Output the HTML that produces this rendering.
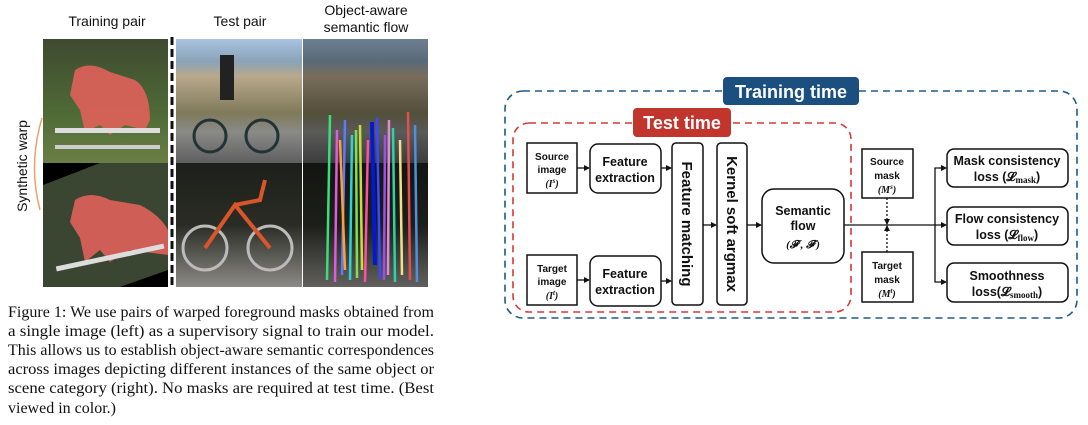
<!DOCTYPE html>
<html><head><meta charset="utf-8"><style>
html,body{margin:0;padding:0;background:#fff;width:1088px;height:425px;overflow:hidden}
svg{display:block}
.b{font-family:"Liberation Sans",sans-serif;font-weight:bold;fill:#111}
.cap{font-family:"Liberation Serif",serif;font-size:16px;fill:#111}
.hd{font-family:"Liberation Sans",sans-serif;font-size:14px;fill:#111}
</style></head><body>
<svg width="1088" height="425" viewBox="0 0 1088 425" xmlns="http://www.w3.org/2000/svg">
<defs>
<marker id="ar" markerWidth="6" markerHeight="6" refX="5" refY="3" orient="auto" markerUnits="userSpaceOnUse"><path d="M0,0 L6,3 L0,6 z" fill="#111"/></marker>
<linearGradient id="g1" x1="0" y1="0" x2="0" y2="1"><stop offset="0" stop-color="#3e4a30"/><stop offset="0.6" stop-color="#4f6a36"/><stop offset="1" stop-color="#6a7f45"/></linearGradient>
<linearGradient id="g2" x1="0" y1="0" x2="0" y2="1"><stop offset="0" stop-color="#a9c3e0"/><stop offset="0.18" stop-color="#8aa3b8"/><stop offset="0.3" stop-color="#b9a88c"/><stop offset="0.6" stop-color="#7f7a5a"/><stop offset="0.75" stop-color="#8a8a88"/><stop offset="1" stop-color="#5f5f60"/></linearGradient>
<linearGradient id="g3" x1="0" y1="0" x2="0" y2="1"><stop offset="0" stop-color="#1d1f1a"/><stop offset="0.5" stop-color="#2a2c25"/><stop offset="1" stop-color="#8c8a86"/></linearGradient>
</defs>

<text class="hd" x="107" y="26" text-anchor="middle">Training pair</text>
<text class="hd" x="240" y="26" text-anchor="middle">Test pair</text>
<text class="hd" x="366" y="15" text-anchor="middle">Object-aware</text>
<text class="hd" x="366" y="32" text-anchor="middle">semantic flow</text>
<text class="hd" transform="translate(27,166) rotate(-90)" text-anchor="middle">Synthetic warp</text>
<path d="M42,118 Q28,165 40,210" stroke="#f0a070" stroke-width="1.5" fill="none"/>

<rect x="43" y="39" width="125" height="124" fill="url(#g1)"/>
<path d="M75,70 Q90,60 110,72 L135,80 Q150,90 150,120 L145,130 L125,125 L110,135 L100,125 L85,132 L80,110 L70,95 Z" fill="#e0605a" opacity="0.9"/>
<rect x="55" y="128" width="105" height="5" fill="#ddd"/><rect x="55" y="145" width="105" height="4" fill="#ccc"/>
<rect x="43" y="163" width="125" height="124" fill="#3a4532"/>
<polygon points="43,163 100,163 43,185" fill="#000"/><polygon points="168,270 168,287 120,287" fill="#000"/>
<path d="M75,200 Q90,190 110,200 L140,205 Q160,215 168,230 L168,255 L130,250 L110,262 L100,250 L85,262 L80,238 L70,222 Z" fill="#e0605a" opacity="0.9"/>
<rect x="55" y="255" width="110" height="5" fill="#ddd" transform="rotate(-12 110 257)"/>

<line x1="172" y1="37" x2="172" y2="288" stroke="#111" stroke-width="3" stroke-dasharray="8,4"/>

<rect x="176" y="39" width="126" height="124" fill="url(#g2)"/>
<circle cx="210" cy="136" r="16" fill="none" stroke="#233" stroke-width="3"/><circle cx="262" cy="136" r="16" fill="none" stroke="#233" stroke-width="3"/>
<rect x="220" y="55" width="14" height="45" fill="#222"/>
<rect x="176" y="163" width="126" height="124" fill="url(#g3)"/>
<circle cx="205" cy="248" r="22" fill="none" stroke="#bbb" stroke-width="3"/><circle cx="270" cy="248" r="22" fill="none" stroke="#bbb" stroke-width="3"/>
<path d="M205,248 L235,205 L270,248 M235,205 L260,200 L265,180" stroke="#d9562a" stroke-width="4" fill="none"/>

<rect x="303" y="39" width="125" height="124" fill="url(#g2)"/>
<rect x="303" y="39" width="125" height="124" fill="#000" opacity="0.35"/>
<rect x="303" y="163" width="125" height="124" fill="url(#g3)"/>
<rect x="303" y="163" width="125" height="124" fill="#000" opacity="0.3"/>
<g stroke-width="2.5">
<line x1="330" y1="115" x2="327" y2="280" stroke="#39e07a"/><line x1="337" y1="130" x2="335" y2="282" stroke="#e05adf"/>
<line x1="345" y1="120" x2="342" y2="275" stroke="#5a7bff"/><line x1="352" y1="135" x2="350" y2="280" stroke="#2bd4d4"/>
<line x1="360" y1="125" x2="362" y2="270" stroke="#c6e03a"/><line x1="368" y1="140" x2="365" y2="282" stroke="#ff4fa3"/>
<line x1="377" y1="118" x2="380" y2="278" stroke="#3b4aff"/><line x1="385" y1="135" x2="384" y2="280" stroke="#9b52e0"/>
<line x1="393" y1="128" x2="395" y2="282" stroke="#2bd4a0"/><line x1="400" y1="140" x2="402" y2="275" stroke="#f5e08a"/>
<line x1="408" y1="112" x2="410" y2="280" stroke="#e0504f"/><line x1="415" y1="125" x2="417" y2="282" stroke="#4f8fe0"/>
<line x1="340" y1="140" x2="345" y2="270" stroke="#ffa030"/><line x1="372" y1="122" x2="375" y2="265" stroke="#0019d4" stroke-width="4"/>
<line x1="356" y1="130" x2="357" y2="278" stroke="#7fe04f"/><line x1="389" y1="120" x2="388" y2="275" stroke="#e08ad4"/>
</g>

<text class="cap" x="8" y="317" textLength="426" lengthAdjust="spacingAndGlyphs">Figure 1: We use pairs of warped foreground masks obtained from</text>
<text class="cap" x="8" y="336" textLength="426" lengthAdjust="spacingAndGlyphs">a single image (left) as a supervisory signal to train our model.</text>
<text class="cap" x="8" y="355" textLength="426" lengthAdjust="spacingAndGlyphs">This allows us to establish object-aware semantic correspondences</text>
<text class="cap" x="8" y="374" textLength="426" lengthAdjust="spacingAndGlyphs">across images depicting different instances of the same object or</text>
<text class="cap" x="8" y="393" textLength="426" lengthAdjust="spacingAndGlyphs">scene category (right). No masks are required at test time. (Best</text>
<text class="cap" x="8" y="413">viewed in color.)</text>

<rect x="505" y="91" width="572" height="227" rx="18" fill="none" stroke="#1f5a8a" stroke-width="1.6" stroke-dasharray="7,5"/>
<rect x="723" y="77" width="136" height="28" rx="4" fill="#1b4f80"/>
<text class="b" x="791" y="98" text-anchor="middle" font-size="18" style="fill:#fff">Training time</text>
<rect x="513" y="123" width="338" height="189" rx="16" fill="none" stroke="#d23a36" stroke-width="1.6" stroke-dasharray="7,5"/>
<rect x="633" y="108" width="98" height="29" rx="4" fill="#c2352d"/>
<text class="b" x="682" y="129" text-anchor="middle" font-size="18" style="fill:#fff">Test time</text>

<g fill="#fff" stroke="#111" stroke-width="1.5">
<rect x="527" y="143" width="50" height="50"/>
<rect x="527" y="255" width="50" height="50"/>
<rect x="590" y="144" width="71" height="49" rx="8"/>
<rect x="590" y="256" width="71" height="50" rx="8"/>
<rect x="672" y="143" width="31" height="162" rx="4"/>
<rect x="717" y="143" width="30" height="162" rx="4"/>
<rect x="762" y="189" width="82" height="74" rx="12"/>
<rect x="862" y="149" width="51" height="49"/>
<rect x="862" y="252" width="51" height="50"/>
<rect x="947" y="149" width="121" height="38" rx="7"/>
<rect x="947" y="207" width="121" height="38" rx="7"/>
<rect x="947" y="263" width="121" height="39" rx="7"/>
</g>

<g class="b" font-size="10" text-anchor="middle">
<text x="552" y="160">Source</text><text x="552" y="173">image</text>
<text x="552" y="187" font-family="Liberation Serif" font-style="italic">(I<tspan font-size="7" dy="-4">s</tspan><tspan dy="4">)</tspan></text>
<text x="552" y="272">Target</text><text x="552" y="285">image</text>
<text x="552" y="299" font-family="Liberation Serif" font-style="italic">(I<tspan font-size="7" dy="-4">t</tspan><tspan dy="4">)</tspan></text>
<text x="887" y="165">Source</text><text x="887" y="179">mask</text>
<text x="887" y="193" font-family="Liberation Serif" font-style="italic">(M<tspan font-size="7" dy="-4">s</tspan><tspan dy="4">)</tspan></text>
<text x="887" y="269">Target</text><text x="887" y="283">mask</text>
<text x="887" y="297" font-family="Liberation Serif" font-style="italic">(M<tspan font-size="7" dy="-4">t</tspan><tspan dy="4">)</tspan></text>
</g>
<g class="b" font-size="12.5" text-anchor="middle">
<text x="625" y="166">Feature</text><text x="625" y="182">extraction</text>
<text x="625" y="278">Feature</text><text x="625" y="294">extraction</text>
<text x="803" y="215">Semantic</text><text x="803" y="230">flow</text>
<text x="803" y="248" font-family="Liberation Serif" font-style="italic" font-size="11">(𝓕<tspan font-size="7" dy="-4">s</tspan><tspan dy="4">, 𝓕</tspan><tspan font-size="7" dy="-4">t</tspan><tspan dy="4">)</tspan></text>
<text x="1007" y="165">Mask consistency</text><text x="1007" y="181">loss (𝓛<tspan font-family="Liberation Serif" font-size="9" dy="2">mask</tspan><tspan dy="-2">)</tspan></text>
<text x="1007" y="223">Flow consistency</text><text x="1007" y="239">loss (𝓛<tspan font-family="Liberation Serif" font-size="9" dy="2">flow</tspan><tspan dy="-2">)</tspan></text>
<text x="1007" y="280">Smoothness</text><text x="1007" y="296">loss(𝓛<tspan font-family="Liberation Serif" font-size="9" dy="2">smooth</tspan><tspan dy="-2">)</tspan></text>
</g>
<text class="b" font-size="15" transform="translate(682,224) rotate(90)" text-anchor="middle">Feature matching</text>
<text class="b" font-size="15" transform="translate(727,224) rotate(90)" text-anchor="middle">Kernel soft argmax</text>

<g stroke="#111" stroke-width="1.3" fill="none">
<line x1="577" y1="168" x2="589" y2="168" marker-end="url(#ar)"/>
<line x1="577" y1="280" x2="589" y2="280" marker-end="url(#ar)"/>
<line x1="661" y1="168" x2="671" y2="168" marker-end="url(#ar)"/>
<line x1="661" y1="281" x2="671" y2="281" marker-end="url(#ar)"/>
<line x1="703" y1="225" x2="716" y2="225" marker-end="url(#ar)"/>
<line x1="747" y1="225" x2="761" y2="225" marker-end="url(#ar)"/>
<line x1="844" y1="225" x2="946" y2="225" marker-end="url(#ar)"/>
<path d="M935,225 V168 H946" marker-end="url(#ar)"/>
<path d="M935,225 V282 H946" marker-end="url(#ar)"/>
<line x1="887" y1="198" x2="887" y2="224" stroke-dasharray="2,2" marker-end="url(#ar)"/>
<line x1="887" y1="252" x2="887" y2="226" stroke-dasharray="2,2" marker-end="url(#ar)"/>
</g>
</svg>
</body></html>
